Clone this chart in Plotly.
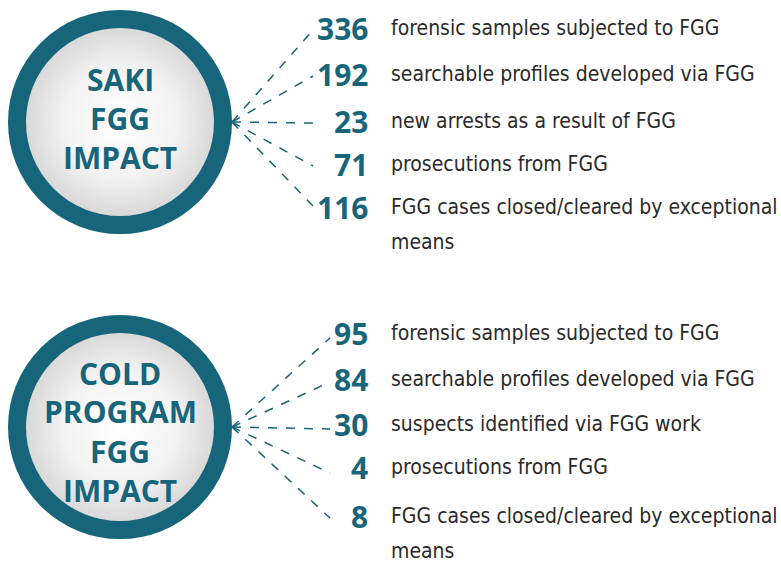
import numpy as np
import plotly.graph_objects as go

# ---- data ----
group_titles = ["SAKI<br>FGG<br>IMPACT", "COLD<br>PROGRAM<br>FGG<br>IMPACT"]
saki_values = ["336", "192", "23", "71", "116"]
saki_labels = [
    "forensic samples subjected to FGG",
    "searchable profiles developed via FGG",
    "new arrests as a result of FGG",
    "prosecutions from FGG",
    "FGG cases closed/cleared by exceptional<br>means",
]
cold_values = ["95", "84", "30", "4", "8"]
cold_labels = [
    "forensic samples subjected to FGG",
    "searchable profiles developed via FGG",
    "suspects identified via FGG work",
    "prosecutions from FGG",
    "FGG cases closed/cleared by exceptional<br>means",
]

# ---- layout / style constants ----
TEAL = "#17657a"
TEXT = "#2a2a2a"
W, H = 781, 563
LBL_FONT = "DejaVu Sans Condensed, DejaVu Sans, sans-serif"
NUM_FONT = "Noto Sans, Liberation Sans, sans-serif"
TITLE_FONT = "Open Sans, sans-serif"
LINE_GAP = 35

groups = [
    dict(cx=120, cy=122, r=112, title=group_titles[0], title_y=[79, 118, 157],
         rows=[28, 74, 121, 164, 207], ends_x=313, ends_y=[30, 76, 123, 166, 206],
         values=saki_values, labels=saki_labels),
    dict(cx=120, cy=427, r=112, title=group_titles[1], title_y=[373, 411, 451, 490],
         rows=[333, 379, 424, 467, 516], ends_x=330, ends_y=[338, 382, 429, 473, 518],
         values=cold_values, labels=cold_labels),
]

fig = go.Figure()
theta = np.linspace(0, 2 * np.pi, 361)
RING = 18

for g in groups:
    cx, cy, r = g["cx"], g["cy"], g["r"]
    # inner gradient disc
    ri = r - RING + 1
    fig.add_trace(go.Scatter(
        x=cx + ri * np.cos(theta), y=cy + ri * np.sin(theta),
        mode="lines", fill="toself", line=dict(width=0, color="rgba(0,0,0,0)"),
        fillgradient=dict(type="radial",
                          colorscale=[[0, "#ffffff"], [0.6, "#f2f2f2"], [1, "#d8d8d8"]]),
        hoverinfo="skip", showlegend=False))
    # ring
    rm = r - RING / 2
    fig.add_shape(type="circle", xref="x", yref="y",
                  x0=cx - rm, x1=cx + rm, y0=cy - rm, y1=cy + rm,
                  line=dict(width=RING, color=TEAL), fillcolor="rgba(0,0,0,0)")
    # dashed connectors
    for ey in g["ends_y"]:
        fig.add_trace(go.Scatter(
            x=[cx + r, g["ends_x"]], y=[cy, ey], mode="lines",
            line=dict(width=1.5, color=TEAL, dash="dash"),
            hoverinfo="skip", showlegend=False))
    # title lines in the circle
    for line, ty in zip(g["title"].split("<br>"), g["title_y"]):
        fig.add_annotation(x=cx, y=ty, text=f"<b>{line}</b>", showarrow=False,
                           xanchor="center", yanchor="middle",
                           font=dict(family=TITLE_FONT, size=30, color=TEAL))
    # numbers
    for v, ry in zip(g["values"], g["rows"]):
        fig.add_annotation(x=370, y=ry, text=f"<b>{v}</b>", showarrow=False,
                           xanchor="right", yanchor="middle",
                           font=dict(family=NUM_FONT, size=30, color=TEAL))
    # labels (each text line placed on its own)
    for lbl, ry in zip(g["labels"], g["rows"]):
        for i, part in enumerate(lbl.split("<br>")):
            fig.add_annotation(x=389, y=ry + i * LINE_GAP, text=part, showarrow=False,
                               xanchor="left", yanchor="middle", align="left",
                               font=dict(family=LBL_FONT, size=21, color=TEXT))

fig.update_layout(
    width=W, height=H, margin=dict(l=0, r=0, t=0, b=0),
    paper_bgcolor="white", plot_bgcolor="white",
    xaxis=dict(range=[0, W], visible=False, fixedrange=True),
    yaxis=dict(range=[H, 0], visible=False, fixedrange=True),
    showlegend=False,
)
post = (
    "document.body.style.margin='0px';"
    "var s=document.createElement('style');"
    "s.textContent='text.annotation-text[style*=\"DejaVu\"],text.annotation-text[style*=\"Noto\"]{font-stretch:condensed !important;}';"
    "document.head.appendChild(s);"
)
fig.write_html("out.html", post_script=post, config={"displayModeBar": False})
